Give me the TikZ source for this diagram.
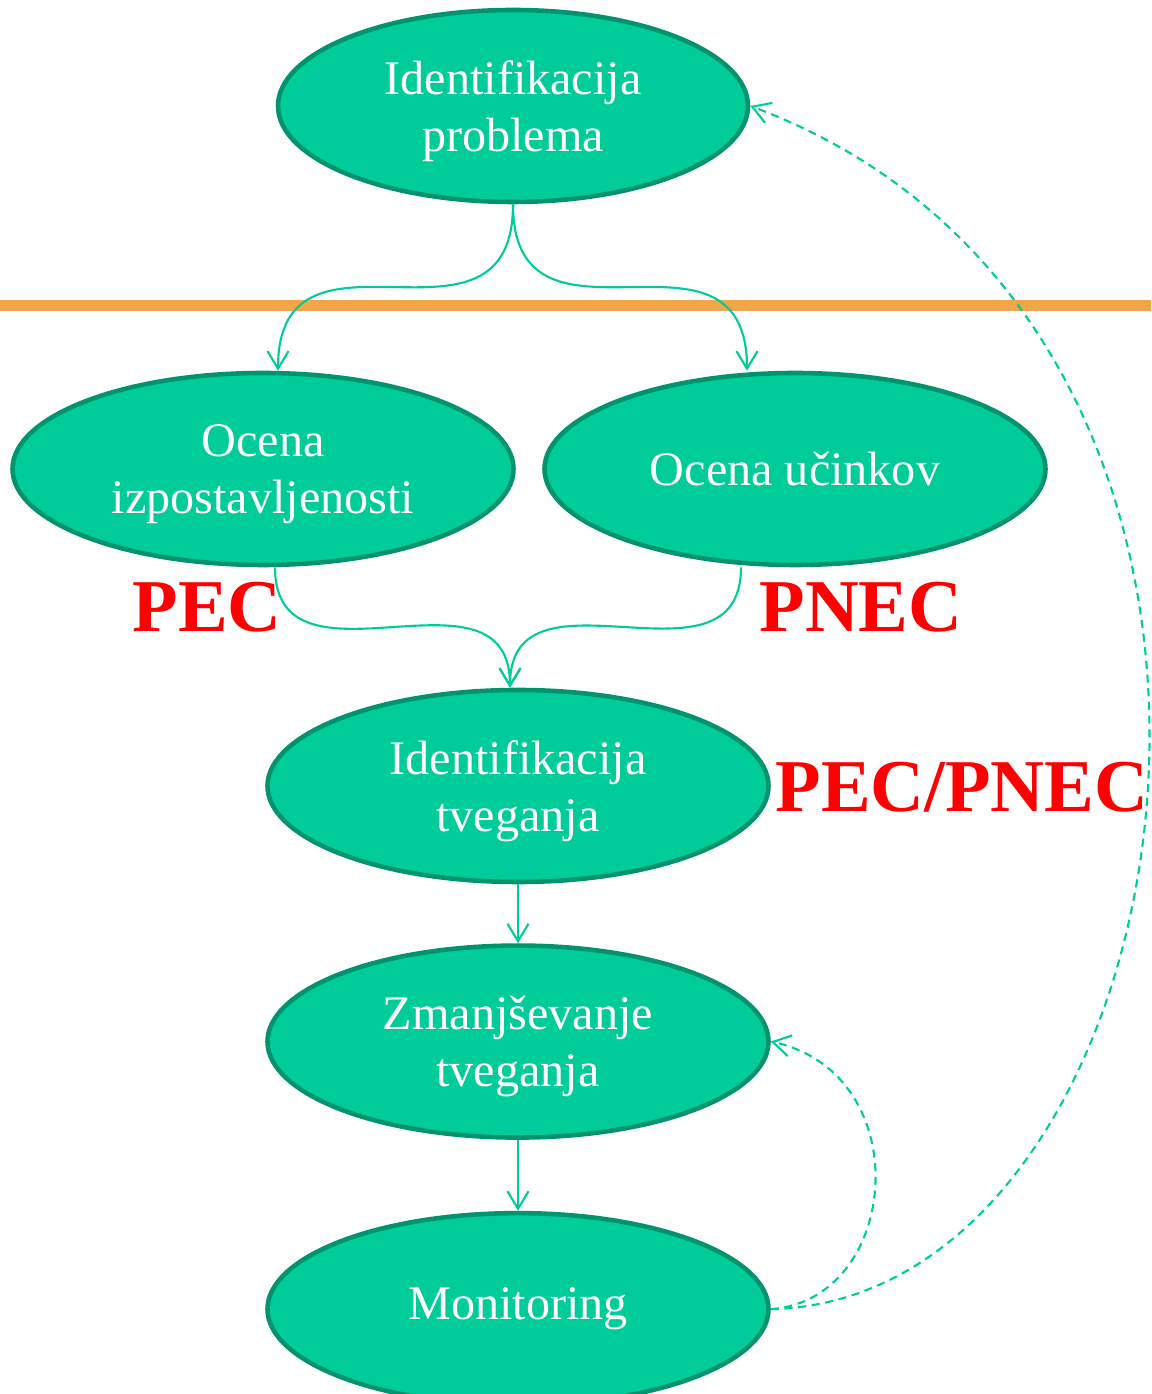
\documentclass[tikz,border=0pt]{standalone}
\usepackage{fontspec}
\setmainfont{Liberation Serif}
\definecolor{Leaf}{HTML}{00CC99}
\definecolor{LeafDark}{HTML}{00936E}
\definecolor{Band}{HTML}{F2A64A}
\definecolor{Alarm}{HTML}{FF0000}
\usetikzlibrary{arrows.meta,positioning,shapes.geometric}

\begin{document}
\begin{tikzpicture}[
    node distance=0.6cm,
    blob/.style={
      ellipse, draw=LeafDark, line width=1.3pt, fill=Leaf,
      minimum width=5.01cm, minimum height=1.92cm, inner sep=0pt,
      align=center, text=white, font=\fontsize{13.7}{16.2}\selectfont
    },
    twoline/.style={text depth=0pt},
    tag/.style={anchor=base, text=Alarm, font=\fontsize{21.2}{24}\selectfont\bfseries},
    arr/.style={-{Straight Barb[length=5pt,width=6pt]}, line width=0.6pt, Leaf},
    back/.style={arr, dash pattern=on 2.3pt off 1.6pt}
  ]
    \useasboundingbox (0,0) rectangle (11.51,13.94);
    % band between the two stages
    \draw[Band, line width=3.1pt] (0,10.885) -- (11.51,10.885);

    \node[blob, twoline, minimum width=4.70cm] (prob) at (5.13,12.88) {Identifikacija\\problema};
    \node[blob, twoline] (izp) at (2.63,9.25) {Ocena\\izpostavljenosti};
    \node[blob] (uci) at (7.95,9.25) {Ocena učinkov};
    \node[blob, twoline] (tveg) at (5.18,6.08) {Identifikacija\\tveganja};
    \node[blob, twoline, below=0.59cm of tveg] (zmanj) {Zmanjševanje\\tveganja};
    \node[blob, below=0.69cm of zmanj, yshift=-0.02cm] (mon) {Monitoring};

    \node[tag] (pec) at (2.07,7.62) {PEC};
    \node[tag] (pnec) at (8.61,7.62) {PNEC};
    \node[tag] (ratio) at (9.62,5.82) {PEC/PNEC};

    \draw[arr] (prob.south) to[out=-90, in=90, looseness=1.5] ([xshift=0.15cm]izp.north);
    \draw[arr] (prob.south) to[out=-90, in=90, looseness=1.5] ([xshift=-0.48cm]uci.north);
    \draw[arr] ([xshift=0.12cm]izp.south) to[out=-90, in=90, looseness=1.3] ([xshift=-0.08cm]tveg.north);
    \draw[arr] ([xshift=-0.54cm]uci.south) to[out=-90, in=90, looseness=1.3] ([xshift=-0.08cm]tveg.north);
    \draw[arr] (tveg) -- (zmanj);
    \draw[arr] (zmanj) -- (mon);
    % feedback loops
    \draw[back] (mon.east) .. controls +(1.30,0.09) and +(1.48,-0.32) .. (zmanj.east);
    \draw[back] (mon.east) .. controls +(4.30,0.09) and +(6.02,-2.24) .. (prob.east);
\end{tikzpicture}
\end{document}
